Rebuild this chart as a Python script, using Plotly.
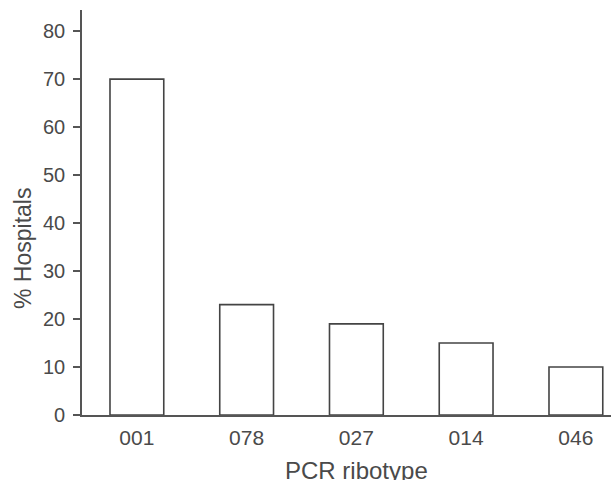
import plotly.graph_objects as go

categories = ["001", "078", "027", "014", "046"]
values = [70, 23, 19, 15, 10]
y_ticks = [0, 10, 20, 30, 40, 50, 60, 70, 80]

FONT = "Liberation Sans, Arial, sans-serif"
GRAY = "#4a4a4a"

fig = go.Figure(
    go.Bar(
        x=categories,
        y=values,
        marker=dict(color="white", line=dict(color="#444444", width=1.6)),
        width=0.49,
    )
)

fig.update_layout(
    width=611,
    height=480,
    margin=dict(l=82, r=0, t=10, b=65),
    paper_bgcolor="white",
    plot_bgcolor="white",
    showlegend=False,
    font=dict(family=FONT, color=GRAY),
)

fig.update_xaxes(
    range=[-0.5, 4.32],
    showline=True,
    linecolor="#555555",
    linewidth=1.6,
    showgrid=False,
    zeroline=False,
    ticks="",
    ticklabelstandoff=3,
    tickfont=dict(size=21, family=FONT, color=GRAY),
)

fig.update_yaxes(
    range=[0, 84.4],
    tickvals=y_ticks,
    showline=True,
    linecolor="#555555",
    linewidth=1.6,
    showgrid=False,
    zeroline=False,
    ticks="outside",
    ticklen=7,
    tickwidth=1.6,
    tickcolor="#555555",
    ticklabelstandoff=4,
    tickfont=dict(size=20, family=FONT, color=GRAY),
)

fig.add_annotation(
    text="% Hospitals",
    xref="paper", yref="paper",
    x=-0.1115, y=0.41,
    xanchor="center", yanchor="middle",
    textangle=-90,
    showarrow=False,
    font=dict(size=23, family=FONT, color=GRAY),
)

fig.add_annotation(
    text="PCR ribotype",
    xref="paper", yref="paper",
    x=0.519, y=-0.136,
    xanchor="center", yanchor="middle",
    showarrow=False,
    font=dict(size=24, family=FONT, color=GRAY),
)

fig.write_html(
    "out.html",
    config={"displayModeBar": False},
    post_script="document.body.style.margin='0';",
)
